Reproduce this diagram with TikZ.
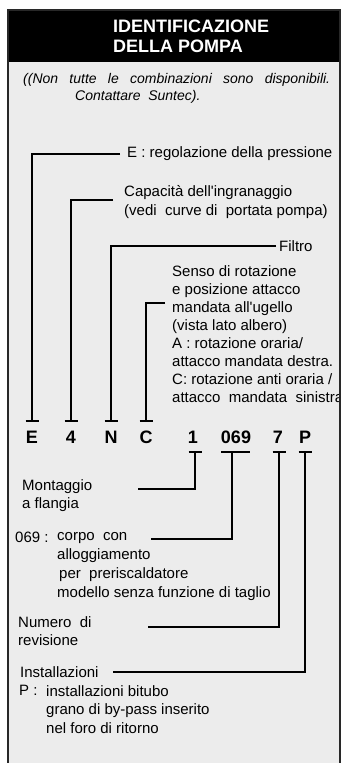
\documentclass[tikz,border=0pt]{standalone}
\usepackage{fontspec}
\setmainfont{Liberation Sans}
\definecolor{panelgray}{RGB}{236,236,236}
\definecolor{edge}{RGB}{40,40,40}
\newcommand{\apo}{\textquotesingle}
\begin{document}
\begin{tikzpicture}[x=1pt,y=-1pt,
  lbl/.style={font=\fontsize{15}{18}\selectfont, inner sep=0, anchor=north west, align=left},
  code/.style={font=\fontsize{18}{18}\selectfont\bfseries, inner sep=0},
  wire/.style={line width=1.6pt, line cap=butt},
  note/.style={font=\fontsize{14}{17}\selectfont\itshape, inner sep=0, anchor=north west},
  head/.style={font=\fontsize{18}{19.5}\selectfont\bfseries, text=white, inner sep=0, anchor=north west, align=left}]
\useasboundingbox (0,0) rectangle (342,763);
% panel
\fill[panelgray] (8,10) rectangle (340,763);
\fill[black] (8,10) rectangle (340,62);
\begin{scope}
\clip (8,10) rectangle (340,763);
% header
\node[head] (title) at (113,20) {IDENTIFICAZIONE\\DELLA POMPA};
\node[note] (note1) at (23,73) {\makebox[307pt][s]{((Non tutte le combinazioni sono disponibili.}};
\node[note] (note2) at (75,90) {Contattare\ \ Suntec).};
% code letters
\node[code] (cE) at (32,437) {E};
\node[code] (c4) at (71,437) {4};
\node[code] (cN) at (111,437) {N};
\node[code] (cC) at (146,437) {C};
\node[code] (c1) at (193,437) {1};
\node[code] (c069) at (236,437) {069};
\node[code] (c7) at (278,437) {7};
\node[code] (cP) at (305,437) {P};
% upper labels
\node[lbl] (lE) at (127,146) {E : regolazione della pressione};
\node[lbl] (l4) at (124,185) {Capacità dell\apo ingranaggio\\[1pt](vedi\ \ curve di\ \ portata pompa)};
\node[lbl] (lN) at (279,240) {Filtro};
\node[lbl] (lC) at (172,265) {Senso di rotazione\\e posizione attacco\\mandata all\apo ugello\\(vista lato albero)\\A : rotazione oraria/\\attacco mandata destra.\\C: rotazione anti oraria /\\attacco\ \ mandata\ \ sinistra};
% lower labels
\node[lbl] (l1) at (22,479) {Montaggio\\a flangia};
\node[lbl] (l069a) at (15,532) {069 :};
\node[lbl] (l069) at (57,532) {corpo\ \ con\\[1pt]alloggiamento\\[1pt]\hspace{2pt}per\ \ preriscaldatore\\[1pt]modello senza funzione di taglio};
\node[lbl] (l7) at (18,616) {Numero\ \ di\\revisione};
\node[lbl] (lPa) at (20,666) {Installazioni};
\node[lbl] (lPb) at (19,685) {P :};
\node[lbl] (lP) at (46,685) {installazioni bitubo\\[0.5pt]grano di by-pass inserito\\[0.5pt]nel foro di ritorno};
\end{scope}
% tee points
\coordinate (tE) at (32,421);
\coordinate (t4) at (71,421);
\coordinate (tN) at (111,421);
\coordinate (tC) at (146,421);
\coordinate (t1) at (195,452);
\coordinate (t069) at (232,452);
\coordinate (t7) at (279,452);
\coordinate (tP) at (305,452);
% free ends of connectors
\coordinate (hE) at (120,154);
\coordinate (h4) at (113,200);
\coordinate (hN) at (276,246);
\coordinate (hC) at (165,303);
\coordinate (h1) at (138,489);
\coordinate (h069) at (151,539);
\coordinate (h7) at (148,627);
\coordinate (hP) at (113,672);
% connectors
\draw[wire] (hE) -| (tE);
\draw[wire] (h4) -| (t4);
\draw[wire] (hN) -| (tN);
\draw[wire] (hC) -| (tC);
\draw[wire] (h1) -| (t1);
\draw[wire] (h069) -| (t069);
\draw[wire] (h7) -| (t7);
\draw[wire] (hP) -| (tP);
% crossbars
\foreach \t in {tE,t4,tN,tC,t1,t7,tP}{\draw[wire] ([xshift=-6.5pt]\t) -- ([xshift=6.5pt]\t);}
\draw[wire] (221,452) -- (250,452);
% border
\draw[line width=2pt, edge] (8,763) -- (8,10) -- (340,10) -- (340,763);
\end{tikzpicture}
\end{document}
